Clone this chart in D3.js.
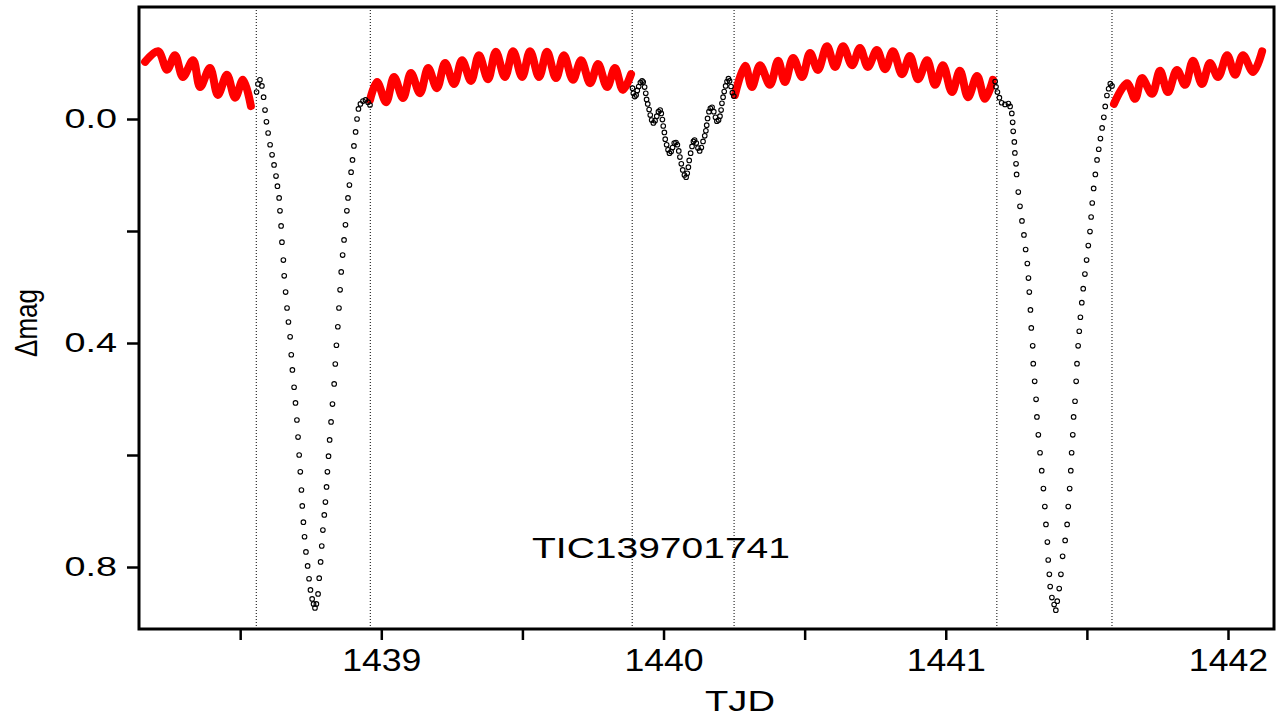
<!DOCTYPE html>
<html>
<head>
<meta charset="utf-8">
<script src="https://cdn.jsdelivr.net/npm/d3@7"></script>
<style>
  body { margin: 0; background: #fff; }
  text { font-family: "Liberation Sans", Arial, sans-serif; fill: #000; }
</style>
</head>
<body>
<div id="chart"></div>
<script>
// out-of-eclipse light curve (red band), one array pair per segment
var red1T = [1438.163, 1438.209, 1438.241, 1438.269, 1438.297, 1438.333, 1438.358, 1438.393, 1438.421, 1438.453, 1438.482, 1438.510, 1438.538];
var red1Mag = [-0.102, -0.121, -0.088, -0.114, -0.075, -0.105, -0.057, -0.091, -0.043, -0.079, -0.038, -0.070, -0.023];

var red2T = [1438.960, 1438.985, 1439.017, 1439.045, 1439.077, 1439.105, 1439.137, 1439.166, 1439.197, 1439.226, 1439.258, 1439.286, 1439.318, 1439.346, 1439.378, 1439.406, 1439.438, 1439.467, 1439.499, 1439.527, 1439.559, 1439.587, 1439.619, 1439.647, 1439.679, 1439.708, 1439.740, 1439.768, 1439.800, 1439.828, 1439.856, 1439.885];
var red2Mag = [-0.034, -0.066, -0.030, -0.075, -0.0375, -0.082, -0.046, -0.091, -0.055, -0.100, -0.0625, -0.105, -0.068, -0.114, -0.071, -0.120, -0.075, -0.121, -0.075, -0.121, -0.075, -0.120, -0.073, -0.114, -0.070, -0.105, -0.064, -0.098, -0.057, -0.091, -0.052, -0.080];

var red3T = [1440.253, 1440.289, 1440.313, 1440.342, 1440.377, 1440.406, 1440.430, 1440.459, 1440.491, 1440.519, 1440.547, 1440.579, 1440.608, 1440.636, 1440.668, 1440.696, 1440.724, 1440.756, 1440.785, 1440.813, 1440.845, 1440.873, 1440.902, 1440.934, 1440.962, 1440.990, 1441.022, 1441.050, 1441.079, 1441.111, 1441.139, 1441.167];
var red3Mag = [-0.043, -0.095, -0.057, -0.096, -0.061, -0.104, -0.066, -0.109, -0.075, -0.118, -0.0875, -0.130, -0.093, -0.130, -0.096, -0.127, -0.093, -0.123, -0.089, -0.121, -0.080, -0.1125, -0.071, -0.105, -0.061, -0.096, -0.048, -0.086, -0.039, -0.077, -0.036, -0.070];

var red4T = [1441.596, 1441.642, 1441.671, 1441.695, 1441.731, 1441.759, 1441.787, 1441.819, 1441.848, 1441.876, 1441.908, 1441.936, 1441.965, 1441.997, 1442.025, 1442.053, 1442.089, 1442.121];
var red4Mag = [-0.027, -0.064, -0.036, -0.073, -0.045, -0.086, -0.048, -0.0875, -0.061, -0.104, -0.0625, -0.100, -0.075, -0.114, -0.079, -0.114, -0.084, -0.121];

// in-eclipse points (open circles)
var prim1T = [1438.558, 1438.563, 1438.570, 1438.577, 1438.583, 1438.588, 1438.593, 1438.599, 1438.606, 1438.613, 1438.620, 1438.627, 1438.632, 1438.638, 1438.641, 1438.645, 1438.648, 1438.653, 1438.656, 1438.661, 1438.666, 1438.671, 1438.677, 1438.681, 1438.685, 1438.691, 1438.696, 1438.701, 1438.705, 1438.709, 1438.713, 1438.717, 1438.720, 1438.724, 1438.728, 1438.733, 1438.739, 1438.744, 1438.749, 1438.755, 1438.760, 1438.765,
  1438.770, 1438.776, 1438.780, 1438.785, 1438.789, 1438.793, 1438.798, 1438.802, 1438.806, 1438.809, 1438.813, 1438.817, 1438.822, 1438.827, 1438.833, 1438.837, 1438.841, 1438.846, 1438.850, 1438.854, 1438.858, 1438.863, 1438.868, 1438.873, 1438.878, 1438.882, 1438.887, 1438.893, 1438.898, 1438.903, 1438.909, 1438.914, 1438.919, 1438.926, 1438.935, 1438.944, 1438.953, 1438.960];
var prim1Mag = [-0.048, -0.0625, -0.070, -0.059, -0.039, -0.016, 0.005, 0.025, 0.046, 0.064, 0.082, 0.102, 0.120, 0.141, 0.164, 0.191, 0.220, 0.252, 0.280, 0.309, 0.3375, 0.3625, 0.389, 0.421, 0.448, 0.479, 0.507, 0.5375, 0.568, 0.600, 0.630, 0.6625, 0.691, 0.720, 0.746, 0.773, 0.798, 0.821, 0.841, 0.857, 0.866, 0.873,
  0.866, 0.848, 0.820, 0.791, 0.7625, 0.734, 0.707, 0.684, 0.657, 0.630, 0.602, 0.573, 0.541, 0.509, 0.473, 0.4375, 0.404, 0.371, 0.3375, 0.305, 0.273, 0.243, 0.216, 0.189, 0.164, 0.141, 0.118, 0.095, 0.073, 0.048, 0.023, 0.000, -0.018, -0.027, -0.032, -0.034, -0.030, -0.025];

var secT = [1439.890, 1439.893, 1439.898, 1439.903, 1439.907, 1439.912, 1439.918, 1439.924, 1439.928, 1439.933, 1439.937, 1439.940, 1439.944, 1439.949, 1439.953, 1439.958, 1439.964, 1439.970, 1439.976, 1439.982, 1439.988, 1439.992, 1439.996, 1439.999, 1440.003, 1440.006, 1440.011, 1440.016, 1440.021, 1440.027, 1440.032, 1440.038, 1440.044, 1440.049, 1440.054, 1440.058, 1440.063, 1440.068, 1440.074, 1440.080, 1440.084, 1440.088, 1440.091, 1440.096, 1440.101, 1440.106, 1440.110, 1440.116, 1440.122, 1440.128, 1440.134, 1440.140, 1440.146, 1440.150, 1440.153, 1440.156, 1440.161, 1440.166, 1440.172, 1440.178, 1440.184, 1440.189, 1440.195, 1440.200, 1440.204, 1440.207, 1440.211, 1440.215, 1440.220, 1440.225, 1440.230, 1440.234, 1440.239, 1440.244, 1440.249];
var secMag = [-0.055, -0.046, -0.040, -0.043, -0.051, -0.058, -0.065, -0.068, -0.066, -0.057, -0.046, -0.035, -0.027, -0.017, -0.007, 0.002, 0.007, 0.003, -0.005, -0.013, -0.016, -0.010, 0.001, 0.0125, 0.024, 0.036, 0.046, 0.055, 0.061, 0.058, 0.051, 0.043, 0.042, 0.046, 0.057, 0.068, 0.080, 0.091, 0.100, 0.104, 0.097, 0.086, 0.074, 0.061, 0.049, 0.040, 0.0375, 0.043, 0.052, 0.057, 0.051, 0.040, 0.030, 0.021, 0.011, -0.001, -0.013, -0.019, -0.021, -0.013, -0.003, 0.004, 0.002, -0.005, -0.016, -0.028, -0.039, -0.049, -0.059, -0.067, -0.072, -0.068, -0.058, -0.047, -0.041];

var prim2T = [1441.175, 1441.178, 1441.183, 1441.190, 1441.198, 1441.210, 1441.222, 1441.228, 1441.234, 1441.237, 1441.239, 1441.243, 1441.245, 1441.249, 1441.251, 1441.257, 1441.263, 1441.270, 1441.277, 1441.283, 1441.289, 1441.293, 1441.296, 1441.300, 1441.303, 1441.308, 1441.310, 1441.315, 1441.320, 1441.323, 1441.328, 1441.334, 1441.340, 1441.346, 1441.351, 1441.355, 1441.360, 1441.363, 1441.367, 1441.370, 1441.376, 1441.384, 1441.390,
  1441.395, 1441.402, 1441.408, 1441.414, 1441.423, 1441.430, 1441.434, 1441.439, 1441.443, 1441.446, 1441.450, 1441.453, 1441.458, 1441.462, 1441.465, 1441.469, 1441.473, 1441.477, 1441.482, 1441.487, 1441.493, 1441.499, 1441.505, 1441.511, 1441.515, 1441.519, 1441.524, 1441.530, 1441.536, 1441.542, 1441.548, 1441.554, 1441.560, 1441.565, 1441.571, 1441.577, 1441.583, 1441.589];
var prim2Mag = [-0.067, -0.0575, -0.048, -0.038, -0.029, -0.026, -0.0275, -0.0225, -0.010, 0.006, 0.022, 0.041, 0.0605, 0.080, 0.099, 0.1305, 0.156, 0.182, 0.207, 0.233, 0.258, 0.284, 0.309, 0.341, 0.373, 0.405, 0.437, 0.4685, 0.5005, 0.532, 0.564, 0.596, 0.628, 0.660, 0.692, 0.724, 0.7555, 0.7875, 0.813, 0.835, 0.8545, 0.867, 0.877,
  0.861, 0.8385, 0.813, 0.781, 0.7525, 0.724, 0.692, 0.660, 0.628, 0.596, 0.564, 0.532, 0.504, 0.4685, 0.437, 0.405, 0.379, 0.354, 0.328, 0.303, 0.277, 0.252, 0.226, 0.201, 0.175, 0.150, 0.124, 0.099, 0.073, 0.054, 0.035, 0.016, -0.003, -0.0225, -0.042, -0.054, -0.063, -0.059];

// eclipse contact times (dotted lines)
var contactT = [1438.557, 1438.961, 1439.889, 1440.250, 1441.181, 1441.589];

// axis ticks
var xTicks = [1438.5, 1439, 1439.5, 1440, 1440.5, 1441, 1441.5, 1442];
var xLabels = [1439, 1440, 1441, 1442];
var yTicks = [0, 0.2, 0.4, 0.6, 0.8];
var yLabels = [0, 0.4, 0.8];
var starName = "TIC139701741";

var svgWidth = 1288;
var svgHeight = 722;
var margin = { top: 7, right: 14, bottom: 93, left: 139 };
var width = svgWidth - margin.left - margin.right;
var height = svgHeight - margin.top - margin.bottom;

var svg = d3.select("#chart")
  .append("svg")
  .attr("width", svgWidth)
  .attr("height", svgHeight);

var chartGroup = svg.append("g")
  .attr("transform", `translate(${margin.left}, ${margin.top})`);

var x = d3.scaleLinear().domain([1438.1415, 1442.163]).range([0, width]);
var y = d3.scaleLinear().domain([-0.2, 0.9107]).range([0, height]);

// dotted contact lines
chartGroup.selectAll(".contact")
  .data(contactT)
  .enter()
  .append("line")
  .attr("x1", d => x(d))
  .attr("x2", d => x(d))
  .attr("y1", 0)
  .attr("y2", height)
  .attr("stroke", "#000")
  .attr("stroke-width", 1)
  .attr("stroke-dasharray", "1,2");

// red out-of-eclipse segments
var redLine = d3.line()
  .x(d => x(d[0]))
  .y(d => y(d[1]))
  .curve(d3.curveCatmullRom.alpha(0.5));

var redSegments = [
  d3.zip(red1T, red1Mag),
  d3.zip(red2T, red2Mag),
  d3.zip(red3T, red3Mag),
  d3.zip(red4T, red4Mag)
];

chartGroup.selectAll(".redSeg")
  .data(redSegments)
  .enter()
  .append("path")
  .attr("d", redLine)
  .attr("fill", "none")
  .attr("stroke", "#ff0000")
  .attr("stroke-width", 8)
  .attr("stroke-linecap", "round")
  .attr("stroke-linejoin", "round");

// open circles in the eclipses
var eclipsePoints = d3.zip(prim1T, prim1Mag)
  .concat(d3.zip(secT, secMag))
  .concat(d3.zip(prim2T, prim2Mag));

chartGroup.selectAll(".pt")
  .data(eclipsePoints)
  .enter()
  .append("circle")
  .attr("cx", d => x(d[0]))
  .attr("cy", d => y(d[1]))
  .attr("r", 2.3)
  .attr("fill", "none")
  .attr("stroke", "#000")
  .attr("stroke-width", 1.1);

// axes
var bottomAxis = d3.axisBottom(x)
  .tickValues(xTicks)
  .tickSizeInner(11)
  .tickSizeOuter(0)
  .tickFormat(d => xLabels.indexOf(d) >= 0 ? d3.format("d")(d) : "");

var leftAxis = d3.axisLeft(y)
  .tickValues(yTicks)
  .tickSizeInner(12)
  .tickSizeOuter(0)
  .tickFormat(d => yLabels.indexOf(d) >= 0 ? d3.format(".1f")(d) : "");

var xAxis = chartGroup.append("g")
  .attr("transform", `translate(0, ${height})`)
  .call(bottomAxis);

xAxis.selectAll("text")
  .attr("y", 0)
  .attr("dy", 0)
  .attr("transform", "translate(0, 42) scale(1.15, 1)")
  .style("font-size", "31px");

var yAxis = chartGroup.append("g")
  .call(leftAxis);

yAxis.selectAll("text")
  .attr("x", 0)
  .attr("dy", 0)
  .attr("transform", "translate(-22, 8.5) scale(1.35, 1)")
  .style("font-size", "28px");

chartGroup.selectAll(".domain").remove();
chartGroup.selectAll(".tick line")
  .attr("stroke", "#000")
  .attr("stroke-width", 2.5);

// frame
chartGroup.append("rect")
  .attr("x", 0)
  .attr("y", 0)
  .attr("width", width)
  .attr("height", height)
  .attr("fill", "none")
  .attr("stroke", "#000")
  .attr("stroke-width", 3);

// axis titles
svg.append("text")
  .attr("transform", `translate(740, 711) scale(1.27, 1)`)
  .attr("text-anchor", "middle")
  .style("font-size", "30px")
  .text("TJD");

svg.append("text")
  .attr("transform", "translate(37, 323) rotate(-90) scale(1, 1.2)")
  .attr("text-anchor", "middle")
  .style("font-size", "26px")
  .text("Δmag");

// star name inside the plot
svg.append("text")
  .attr("transform", "translate(661, 558) scale(1.3, 1)")
  .attr("text-anchor", "middle")
  .style("font-size", "30px")
  .text(starName);
</script>
</body>
</html>
